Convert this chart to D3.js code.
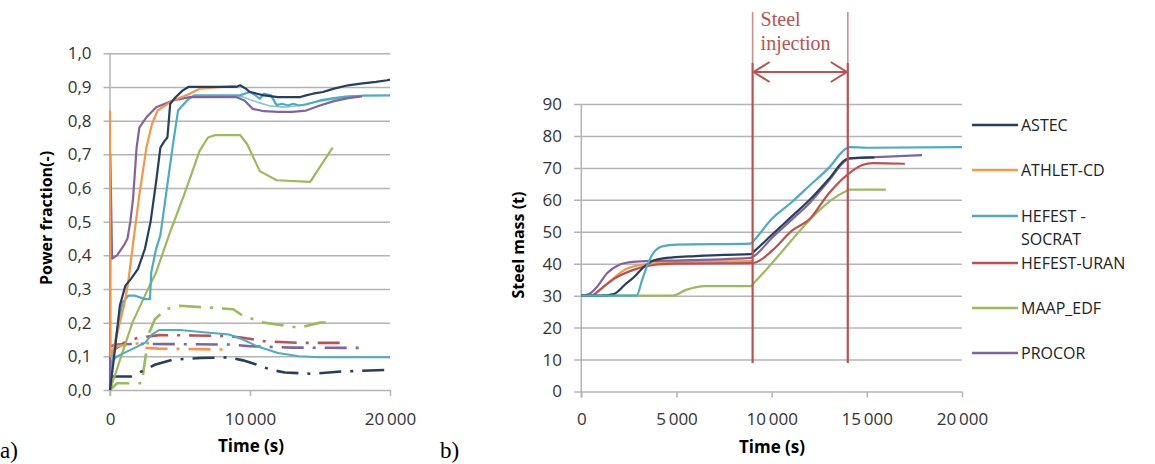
<!DOCTYPE html>
<html><head><meta charset="utf-8">
<script src="https://cdn.jsdelivr.net/npm/d3@7/dist/d3.min.js"></script>
<style>
html,body{margin:0;padding:0;background:#fff;}
svg{display:block;}
</style></head>
<body>
<svg id="chart" width="1155" height="464"></svg>
<script>
// ---------- DATA : panel a) power fraction (time s, fraction) ----------
const aTimeTicks = [0, 10000, 20000];
const aYTicks = [0,0.1,0.2,0.3,0.4,0.5,0.6,0.7,0.8,0.9,1.0];
const aAstec = [[0,0],[300,0.1],[700,0.25],[1100,0.31],[1500,0.33],[2000,0.36],[2500,0.42],[2900,0.5],[3300,0.62],[3600,0.72],[3900,0.74],[4100,0.75],[4300,0.85],[4700,0.87],[5200,0.89],[5600,0.9],[9000,0.9],[9300,0.905],[9700,0.895],[10000,0.885],[10500,0.88],[11000,0.875],[12000,0.87],[13000,0.87],[13600,0.87],[14000,0.875],[14500,0.88],[15200,0.885],[16000,0.895],[17000,0.905],[17900,0.91],[19000,0.915],[19800,0.92],[20000,0.922]];
const aAthlet = [[0,0.83],[30,0.1],[300,0.13],[700,0.2],[1000,0.25],[1300,0.32],[1600,0.42],[2100,0.58],[2600,0.72],[3000,0.79],[3400,0.83],[4500,0.86],[5700,0.88],[6400,0.895],[9000,0.903]];
const aSocrat = [[0,0],[200,0.1],[600,0.2],[900,0.26],[1300,0.28],[1800,0.28],[2500,0.27],[2850,0.27],[2950,0.35],[3300,0.42],[3600,0.46],[4000,0.58],[4500,0.73],[4860,0.83],[5500,0.86],[6000,0.875],[9300,0.875],[9600,0.88],[10000,0.885],[10400,0.875],[10700,0.865],[11000,0.88],[11500,0.875],[11900,0.846],[12300,0.85],[12700,0.845],[13100,0.85],[13500,0.845],[14000,0.848],[15000,0.86],[16000,0.867],[17000,0.872],[18000,0.874],[20000,0.875]];
const aSocrat2 = [[9000,0.875],[9500,0.87],[10500,0.855],[11500,0.843],[12500,0.84],[13500,0.845],[15000,0.858],[17000,0.87],[18000,0.873]];
const aMaap = [[0,0],[1600,0.2],[2600,0.29],[3300,0.35],[4300,0.47],[5300,0.58],[6400,0.71],[7000,0.75],[7500,0.757],[9300,0.757],[9800,0.73],[10700,0.65],[11900,0.623],[14300,0.618],[15900,0.72]];
const aProcor = [[0,0],[20,0.70],[150,0.39],[500,0.40],[1000,0.43],[1250,0.45],[1450,0.5],[1650,0.57],[1900,0.72],[2100,0.78],[2600,0.81],[3300,0.84],[4500,0.86],[5700,0.87],[9000,0.87],[9600,0.86],[10200,0.835],[11000,0.828],[12000,0.826],[13000,0.826],[14000,0.83],[15000,0.845],[16000,0.858],[17000,0.867],[18000,0.872]];
// dash-dot (secondary) series of panel a)
const aAstecDash = [[0,0.04],[1500,0.04],[2500,0.06],[3200,0.075],[4500,0.09],[6500,0.095],[8500,0.097],[9500,0.088],[10500,0.075],[11500,0.06],[12500,0.052],[14500,0.048],[16500,0.055],[18000,0.057],[20000,0.06]];
const aAthletDash = [[0,0.1],[500,0.13],[1500,0.135],[2200,0.14],[2600,0.125],[3500,0.123],[5000,0.122],[8500,0.12]];
const aSocratLow = [[0,0.08],[500,0.1],[1500,0.12],[2500,0.14],[3000,0.165],[3500,0.178],[5000,0.178],[6500,0.172],[8500,0.165],[9500,0.15],[10500,0.13],[12000,0.11],[13500,0.1],[15000,0.097],[20000,0.097]];
const aUranDash = [[0,0.1],[300,0.12],[1000,0.14],[2000,0.155],[3500,0.163],[6000,0.162],[8500,0.16],[9500,0.155],[11000,0.145],[13500,0.14],[16500,0.14]];
const aMaapDash = [[0,0],[500,0.02],[2300,0.02],[2400,0.06],[2800,0.17],[3200,0.21],[4000,0.24],[5000,0.25],[7000,0.245],[8800,0.24],[9500,0.22],[11000,0.2],[13500,0.185],[15000,0.2],[16000,0.2]];
const aProcorDash = [[0,0.13],[500,0.135],[2000,0.137],[8500,0.135],[10000,0.13],[13000,0.126],[18000,0.125]];

// ---------- DATA : panel b) steel mass (time s, t) ----------
const bTimeTicks = [0, 5000, 10000, 15000, 20000];
const bYTicks = [0,10,20,30,40,50,60,70,80,90];
const bInjection = [9000, 14000];
const bAstec = [[0,30],[1000,30],[1700,30.5],[2300,33.5],[2800,36],[3200,38.5],[3800,41],[4800,42],[6000,42.4],[7500,42.8],[8900,43],[9100,44],[10000,49],[11000,54.5],[12000,60],[13000,66.5],[13900,72.6],[14100,73],[15400,73.3]];
const bAthlet = [[0,30],[500,30],[1200,33],[1800,36],[2400,38.5],[3400,39.8],[5000,40.6],[9000,40.8]];
const bSocrat = [[0,30],[2900,30],[3200,35],[3500,40],[3800,43.5],[4300,45.5],[5000,46],[8900,46.3],[9100,47.5],[10000,54],[11000,59],[12000,64.5],[13000,70],[13900,76],[14100,76.5],[15000,76.3],[20000,76.5]];
const bUran = [[0,30],[500,30],[1000,32],[1700,35.2],[2700,38],[3800,39.6],[5000,40],[9000,40.2],[9500,41.5],[10100,44.5],[11100,50.5],[12000,54],[13000,62],[14000,68],[14800,71],[15300,71.5],[17000,71.3]];
const bMaap = [[0,30],[4800,30],[5500,31.8],[6500,33],[8900,33],[9100,34.2],[13900,62.7],[14100,63.2],[16000,63.2]];
const bProcor = [[0,30],[400,30.5],[830,32.8],[1350,37],[2000,39.7],[2700,40.6],[3800,40.9],[5000,41],[8900,41.8],[9100,42.5],[10000,48],[11000,53.5],[12000,59],[13000,66],[13900,72.4],[14100,73],[15500,73.4],[17900,74]];

const seriesNames = ["ASTEC","ATHLET-CD","HEFEST-SOCRAT","HEFEST-URAN","MAAP_EDF","PROCOR"];
const seriesColors = ["#243f60","#f79646","#4bacc6","#c0504d","#9bbb59","#8064a2"];

// ---------- DRAWING ----------
const svg = d3.select("#chart");
const font = "'Open Sans', 'Liberation Sans', sans-serif";
const loc = d3.formatLocale({decimal: ",", thousands: "\u2009", grouping: [3], currency: ["", ""]});
const fmtX = loc.format(",d");
const fmtYa = loc.format(".1f");

// Panel a
const xA = d3.scaleLinear([0, 20000], [110, 390]);
const yA = d3.scaleLinear([0, 1], [390, 53.3]);
// Panel b
const xB = d3.scaleLinear([0, 20000], [581.3, 962]);
const yB = d3.scaleLinear([0, 90], [391.5, 104]);

function styleAxis(g) {
  g.select(".domain").remove();
  g.selectAll(".tick line").attr("stroke", "#b4b4b4").attr("stroke-width", 1.5);
  g.selectAll(".tick text").attr("fill", "#333").style("font-family", font).style("font-size", "17px");
}

// y grids + labels
svg.append("g").attr("transform", "translate(103.5,0)")
  .call(d3.axisLeft(yA).tickValues(aYTicks).tickSize(-(390 - 103.5)).tickPadding(12).tickFormat(fmtYa))
  .call(styleAxis);
svg.append("g").attr("transform", "translate(574,0)")
  .call(d3.axisLeft(yB).tickValues(bYTicks).tickSize(-(962 - 574)).tickPadding(12).tickFormat(d => d))
  .call(styleAxis);
// x axes
svg.append("g").attr("transform", "translate(0,390)")
  .call(d3.axisBottom(xA).tickValues(aTimeTicks).tickSize(6).tickPadding(17).tickFormat(fmtX))
  .call(styleAxis);
svg.append("g").attr("transform", "translate(0,391.5)")
  .call(d3.axisBottom(xB).tickValues(bTimeTicks).tickSize(6).tickPadding(15).tickFormat(fmtX))
  .call(styleAxis);
// vertical axis lines
svg.append("line").attr("x1", xA(0)).attr("x2", xA(0)).attr("y1", yA(1)).attr("y2", yA(0) + 6)
  .attr("stroke", "#b4b4b4").attr("stroke-width", 1.5);
svg.append("line").attr("x1", xB(0)).attr("x2", xB(0)).attr("y1", yB(90)).attr("y2", yB(0) + 6)
  .attr("stroke", "#b4b4b4").attr("stroke-width", 1.5);

// axis titles
svg.append("text").attr("x", 251).attr("y", 452).attr("text-anchor", "middle")
  .style("font-family", font).style("font-weight", "bold").style("font-size", "17px").text("Time (s)");
svg.append("text").attr("x", 772).attr("y", 453).attr("text-anchor", "middle")
  .style("font-family", font).style("font-weight", "bold").style("font-size", "17px").text("Time (s)");
svg.append("text").attr("transform", "translate(52,218) rotate(-90)").attr("text-anchor", "middle")
  .style("font-family", font).style("font-weight", "bold").style("font-size", "16px").text("Power fraction(-)");
svg.append("text").attr("transform", "translate(524,245) rotate(-90)").attr("text-anchor", "middle")
  .style("font-family", font).style("font-weight", "bold").style("font-size", "16px").text("Steel mass (t)");

// panel letters
svg.append("text").attr("x", 0).attr("y", 458).style("font-family", "'Liberation Serif', serif").style("font-size", "23px").text("a)");
svg.append("text").attr("x", 440).attr("y", 458).style("font-family", "'Liberation Serif', serif").style("font-size", "23px").text("b)");

// lines panel a
const lineA = d3.line().x(d => xA(d[0])).y(d => yA(d[1])).curve(d3.curveLinear);
const dashA = "22,9,3,9";
const aSolid = [
  {d: aMaap, c: seriesColors[4]},
  {d: aSocratLow, c: seriesColors[2], w: 2},
  {d: aSocrat2, c: "#86c7dc", w: 1.6},
  {d: aSocrat, c: seriesColors[2]},
  {d: aProcor, c: seriesColors[5]},
  {d: aAthlet, c: seriesColors[1]},
  {d: aAstec, c: seriesColors[0]}
];
const aDash = [
  {d: aMaapDash, c: seriesColors[4]},
  {d: aUranDash, c: seriesColors[3]},
  {d: aProcorDash, c: seriesColors[5]},
  {d: aAthletDash, c: seriesColors[1]},
  {d: aAstecDash, c: seriesColors[0]}
];
aDash.forEach(s => svg.append("path").attr("d", lineA(s.d)).attr("fill", "none")
  .attr("stroke", s.c).attr("stroke-width", 2.6).attr("stroke-dasharray", dashA));
aSolid.forEach(s => svg.append("path").attr("d", lineA(s.d)).attr("fill", "none")
  .attr("stroke", s.c).attr("stroke-width", s.w || 2.2).attr("stroke-linejoin", "round"));

// lines panel b
const lineB = d3.line().x(d => xB(d[0])).y(d => yB(d[1])).curve(d3.curveMonotoneX);
const bSeries = [bAstec, bAthlet, bSocrat, bUran, bMaap, bProcor];
[4, 1, 3, 5, 0, 2].forEach(i => svg.append("path").attr("d", lineB(bSeries[i])).attr("fill", "none")
  .attr("stroke", seriesColors[i]).attr("stroke-width", 2.2).attr("stroke-linejoin", "round"));

// steel injection annotation
const red = "#c0504d";
bInjection.forEach(t => {
  svg.append("line").attr("x1", xB(t)).attr("x2", xB(t)).attr("y1", 12).attr("y2", 63)
    .attr("stroke", "#d38a88").attr("stroke-width", 1.6);
  svg.append("line").attr("x1", xB(t)).attr("x2", xB(t)).attr("y1", 63).attr("y2", 363)
    .attr("stroke", red).attr("stroke-width", 2.2);
});
const ay = 72, x0 = xB(bInjection[0]), x1 = xB(bInjection[1]);
svg.append("line").attr("x1", x0).attr("x2", x1).attr("y1", ay).attr("y2", ay).attr("stroke", red).attr("stroke-width", 2);
svg.append("path").attr("d", `M${x0 + 17},${ay - 10}L${x0 + 1},${ay}L${x0 + 17},${ay + 10}`).attr("fill", "none").attr("stroke", red).attr("stroke-width", 2);
svg.append("path").attr("d", `M${x1 - 17},${ay - 10}L${x1 - 1},${ay}L${x1 - 17},${ay + 10}`).attr("fill", "none").attr("stroke", red).attr("stroke-width", 2);
svg.append("text").attr("x", x0 + 8).attr("y", 26).attr("fill", red)
  .style("font-family", "'Liberation Serif', serif").style("font-size", "20px").text("Steel");
svg.append("text").attr("x", x0 + 8).attr("y", 50).attr("fill", red)
  .style("font-family", "'Liberation Serif', serif").style("font-size", "20px").text("injection");

// legend
const legY = [125, 170, 216, 263, 308, 353];
seriesNames.forEach((n, i) => {
  svg.append("line").attr("x1", 972).attr("x2", 1018).attr("y1", legY[i]).attr("y2", legY[i])
    .attr("stroke", seriesColors[i]).attr("stroke-width", 2.6);
  const t = svg.append("text").attr("x", 1021).attr("y", legY[i] + 6)
    .style("font-family", font).style("font-size", "16px").attr("fill", "#222");
  if (n === "HEFEST-SOCRAT") {
    t.append("tspan").attr("x", 1021).text("HEFEST -");
    t.append("tspan").attr("x", 1021).attr("dy", 23).text("SOCRAT");
  } else t.text(n);
});
</script>
</body></html>
